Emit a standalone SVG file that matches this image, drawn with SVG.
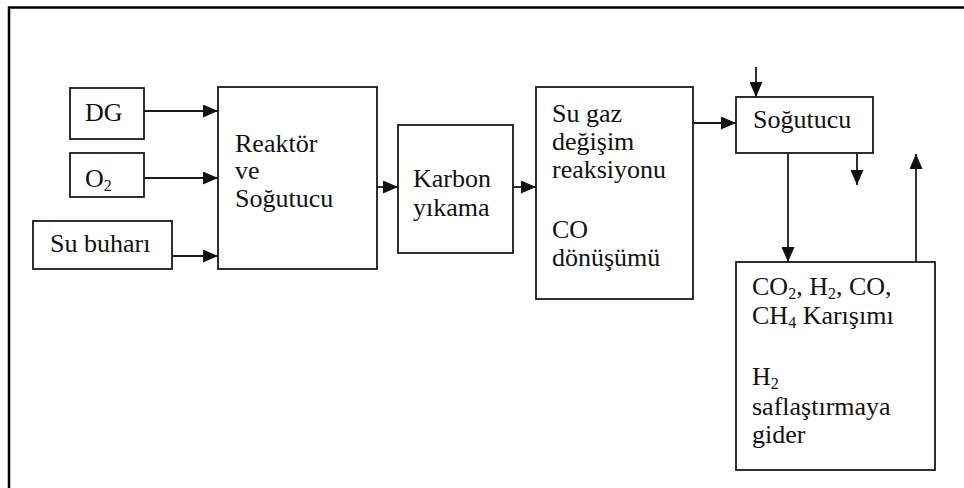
<svg xmlns="http://www.w3.org/2000/svg" width="964" height="488" viewBox="0 0 964 488">
<defs>
<style>
.box{fill:#fff;stroke:#1a1a1a;stroke-width:1.8}
.ln{fill:none;stroke:#1a1a1a;stroke-width:1.8}
text{font-family:'Liberation Serif','Times New Roman','DejaVu Serif',serif;font-size:26px;fill:#111}
.s{font-size:16px}
</style>
<marker id="ah" markerUnits="userSpaceOnUse" markerWidth="15" markerHeight="13" refX="15" refY="6.5" orient="auto">
<path d="M0,0 L15,6.5 L0,13 z" fill="#111"/>
</marker>
</defs>
<rect width="964" height="488" fill="#fff"/>
<path d="M9,488 V7.5 H964" fill="none" stroke="#000" stroke-width="2.5"/>

<g id="dg" font-family="Liberation Serif, serif">
<rect class="box" x="70" y="88" width="74" height="51"/>
<text x="85" y="121">DG</text>
</g>
<g id="o2" font-family="Liberation Serif, serif">
<rect class="box" x="70" y="153" width="74" height="44"/>
<text x="85" y="187">O<tspan class="s" dy="4">2</tspan></text>
</g>
<g id="subuhari" font-family="Liberation Serif, serif">
<rect class="box" x="33" y="221" width="139" height="48"/>
<text x="50" y="252">Su buharı</text>
</g>
<g id="reaktor" font-family="Liberation Serif, serif">
<rect class="box" x="218" y="87" width="159" height="182"/>
<text x="235" y="152">Reaktör</text>
<text x="235" y="179">ve</text>
<text x="235" y="207">Soğutucu</text>
</g>
<g id="karbon" font-family="Liberation Serif, serif">
<rect class="box" x="398" y="125" width="115" height="128"/>
<text x="413" y="187">Karbon</text>
<text x="413" y="216">yıkama</text>
</g>
<g id="sugaz" font-family="Liberation Serif, serif">
<rect class="box" x="536" y="87" width="157" height="212"/>
<text x="552" y="122">Su gaz</text>
<text x="552" y="150">değişim</text>
<text x="552" y="178">reaksiyonu</text>
<text x="552" y="238">CO</text>
<text x="552" y="266">dönüşümü</text>
</g>
<g id="sogutucu" font-family="Liberation Serif, serif">
<rect class="box" x="736" y="97" width="137" height="56"/>
<text x="753" y="128">Soğutucu</text>
</g>
<g id="karisim" font-family="Liberation Serif, serif">
<rect class="box" x="736" y="262" width="199" height="208"/>
<text x="752" y="295">CO<tspan class="s" dy="4">2</tspan><tspan dy="-4">, H</tspan><tspan class="s" dy="4">2</tspan><tspan dy="-4">, CO,</tspan></text>
<text x="752" y="324">CH<tspan class="s" dy="4">4</tspan><tspan dy="-4"> Karışımı</tspan></text>
<text x="752" y="385">H<tspan class="s" dy="4">2</tspan></text>
<text x="752" y="415">saflaştırmaya</text>
<text x="752" y="443">gider</text>
</g>

<g id="connectors">
<line class="ln" x1="144" y1="111" x2="218" y2="111" marker-end="url(#ah)"/>
<line class="ln" x1="144" y1="178" x2="218" y2="178" marker-end="url(#ah)"/>
<line class="ln" x1="172" y1="256" x2="218" y2="256" marker-end="url(#ah)"/>
<line class="ln" x1="377" y1="187" x2="398" y2="187" marker-end="url(#ah)"/>
<line class="ln" x1="513" y1="187" x2="536" y2="187" marker-end="url(#ah)"/>
<line class="ln" x1="693" y1="123" x2="736" y2="123" marker-end="url(#ah)"/>
<line class="ln" x1="756" y1="67" x2="756" y2="97" marker-end="url(#ah)"/>
<line class="ln" x1="857" y1="153" x2="857" y2="185" marker-end="url(#ah)"/>
<line class="ln" x1="788" y1="153" x2="788" y2="262" marker-end="url(#ah)"/>
<line class="ln" x1="916" y1="262" x2="916" y2="154" marker-end="url(#ah)"/>
</g>
</svg>
